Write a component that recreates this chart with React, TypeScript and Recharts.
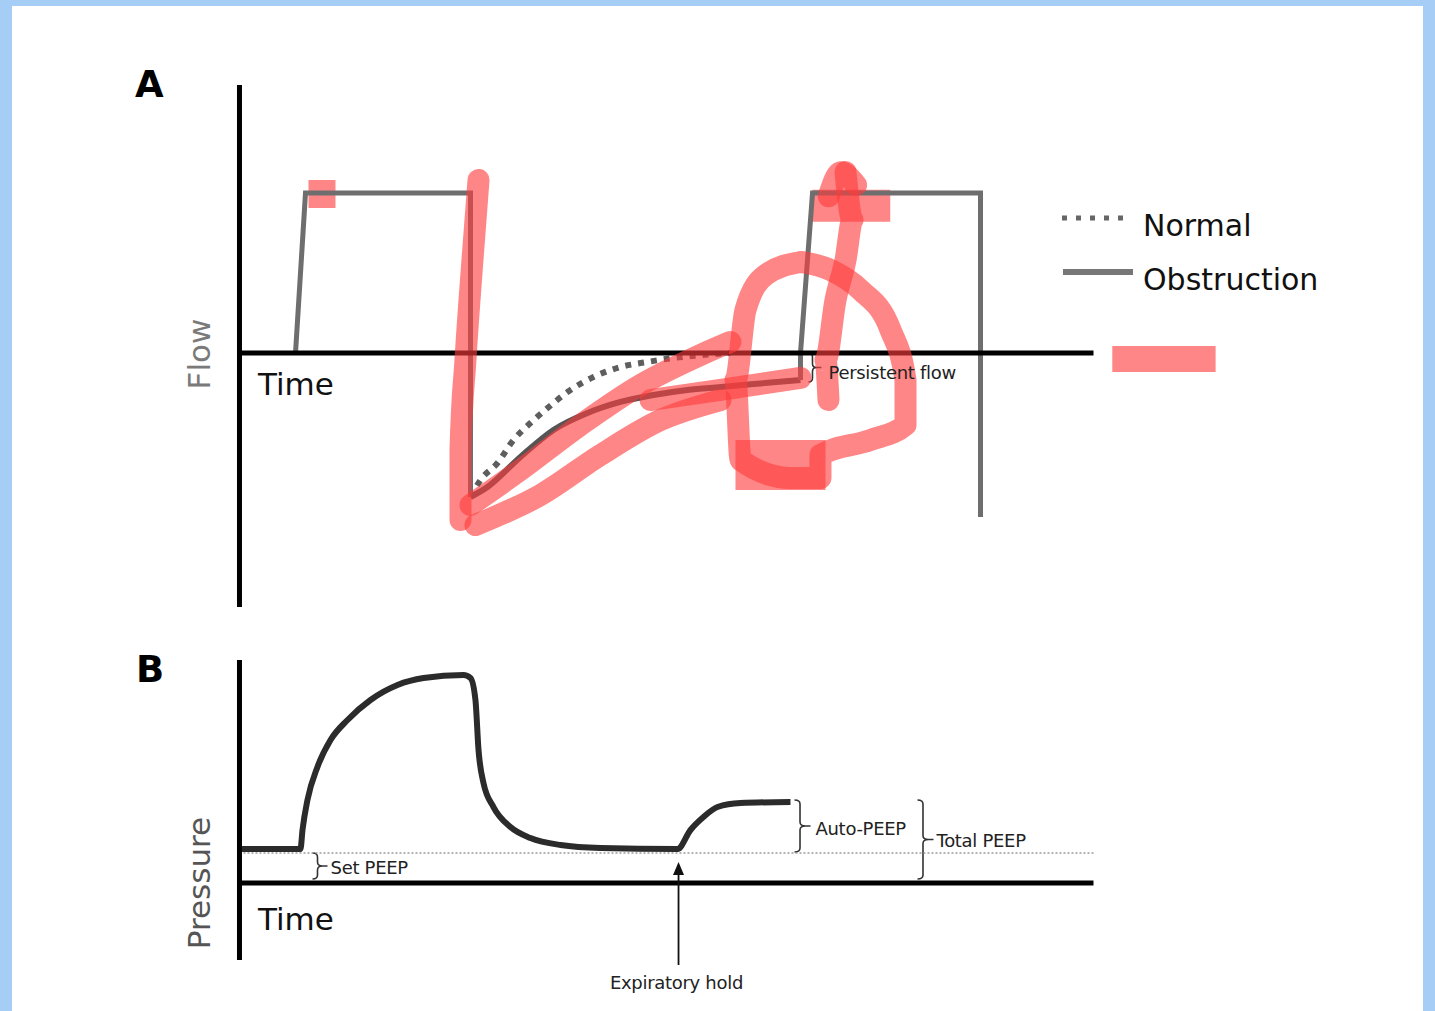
import React from 'react';
import { LineChart, Line, XAxis, YAxis, ReferenceLine, ReferenceArea, ReferenceDot } from 'recharts';

const FONT = "'DejaVu Sans', Verdana, sans-serif";

// ---------- Panel A: flow (t = time units, f = flow units) ----------
const obstructionInsp1 = [
  { t: 6.56, f: 0 }, { t: 7.73, f: 1 }, { t: 27.05, f: 1 }, { t: 27.05, f: -0.9 },
];
const obstructionExp = [
  { t: 27.05, f: -0.9 }, { t: 29.04, f: -0.8375 }, { t: 32.9, f: -0.65 }, { t: 36.77, f: -0.481 },
  { t: 40.75, f: -0.375 }, { t: 44.61, f: -0.306 }, { t: 48.48, f: -0.2625 }, { t: 52.46, f: -0.231 },
  { t: 56.32, f: -0.2125 }, { t: 60.19, f: -0.194 }, { t: 65.69, f: -0.169 },
];
const obstructionInsp2 = [
  { t: 65.69, f: -0.169 }, { t: 65.69, f: 0 }, { t: 67.1, f: 1 }, { t: 86.77, f: 1 }, { t: 86.77, f: -1.025 },
];
const normalExp = [
  { t: 27.05, f: -0.9 }, { t: 28.22, f: -0.794 }, { t: 30.21, f: -0.6875 }, { t: 32.08, f: -0.544 },
  { t: 34.07, f: -0.4375 }, { t: 36.07, f: -0.344 }, { t: 38.76, f: -0.231 }, { t: 41.45, f: -0.15 },
  { t: 44.61, f: -0.0875 }, { t: 47.78, f: -0.056 }, { t: 50.82, f: -0.031 }, { t: 54.33, f: -0.0125 },
  { t: 57.5, f: 0 },
];
const flowAxisV = [{ x: 0, y: 1.675 }, { x: 0, y: -1.5875 }];
const flowAxisH = [{ x: 0, y: 0 }, { x: 100, y: 0 }];

// red hand-drawn marks (panel A)
const redStrokeFall = [
  { t: 27.99, f: 1.081 }, { t: 27.28, f: 0.581 }, { t: 26.46, f: -0.044 }, { t: 25.88, f: -0.606 }, { t: 25.88, f: -1.044 },
];
const redStrokeCurveUpper = [
  { t: 27.05, f: -0.95 }, { t: 32.9, f: -0.731 }, { t: 39.93, f: -0.45 }, { t: 46.96, f: -0.2 },
  { t: 53.98, f: -0.0125 }, { t: 57.49, f: 0.069 },
];
const redStrokeCurveLower = [
  { t: 27.63, f: -1.075 }, { t: 35.25, f: -0.8875 }, { t: 42.27, f: -0.6375 }, { t: 49.3, f: -0.419 },
  { t: 56.32, f: -0.294 },
];
const redStrokeTail = [
  { t: 48.13, f: -0.294 }, { t: 56.32, f: -0.231 }, { t: 65.69, f: -0.156 },
];
const redLoop = [
  { t: 65.69, f: 0.569 }, { t: 61.59, f: 0.4875 }, { t: 59.25, f: 0.269 }, { t: 58.08, f: -0.169 },
  { t: 58.67, f: -0.669 }, { t: 64.52, f: -0.781 }, { t: 68.03, f: -0.781 }, { t: 68.03, f: -0.6375 },
  { t: 73.89, f: -0.544 }, { t: 77.99, f: -0.45 }, { t: 77.99, f: -0.169 }, { t: 76.23, f: 0.144 },
  { t: 72.72, f: 0.394 }, { t: 69.2, f: 0.519 }, { t: 65.69, f: 0.569 },
];
const redSquiggle = [
  { t: 70.96, f: 1.131 }, { t: 71.78, f: 0.831 }, { t: 70.96, f: 0.581 }, { t: 69.79, f: 0.331 },
  { t: 68.62, f: -0.044 }, { t: 68.97, f: -0.294 },
];
const redPeak = [{ t: 69.0, f: 0.98 }, { t: 70.4, f: 1.13 }, { t: 72.2, f: 1.05 }];
const redBlocks = [
  { t1: 8.08, t2: 11.24, f1: 0.906, f2: 1.081 },
  { t1: 67.1, t2: 76.2, f1: 0.82, f2: 1.02 },
  { t1: 58.08, t2: 68.62, f1: -0.856, f2: -0.544 },
  { t1: 102.2, t2: 114.3, f1: -0.119, f2: 0.044 },
];

// ---------- Panel B: pressure (t = time units, p = pressure units) ----------
const pressure = [
  { t: 0, p: 1.133 }, { t: 7.14, p: 1.133 }, { t: 7.38, p: 1.767 }, { t: 7.96, p: 2.767 },
  { t: 9.13, p: 3.867 }, { t: 10.66, p: 4.767 }, { t: 12.65, p: 5.433 }, { t: 15.34, p: 6.1 },
  { t: 18.5, p: 6.6 }, { t: 21.55, p: 6.833 }, { t: 26.23, p: 6.933 }, { t: 27.05, p: 6.833 },
  { t: 27.63, p: 6.1 }, { t: 27.99, p: 4.433 }, { t: 28.57, p: 3.333 }, { t: 29.74, p: 2.533 },
  { t: 31.73, p: 1.867 }, { t: 34.07, p: 1.5 }, { t: 37.59, p: 1.267 }, { t: 42.27, p: 1.167 },
  { t: 51.29, p: 1.133 }, { t: 52.81, p: 1.767 }, { t: 54.33, p: 2.2 }, { t: 55.97, p: 2.533 },
  { t: 58.67, p: 2.667 }, { t: 64.52, p: 2.7 },
];
const pressAxisV = [{ x: 0, y: 7.433 }, { x: 0, y: -2.567 }];
const pressAxisH = [{ x: 0, y: 0 }, { x: 100, y: 0 }];
const setPeepLine = [{ x: 0, y: 1 }, { x: 100, y: 1 }];
const holdArrow = [{ x: 51.41, y: -2.733 }, { x: 51.41, y: 0.4 }];
const holdArrowTip = { t: 51.41, p: 0.7 };

const bracesA = [{ t1: 66.63, t2: 67.56, y1: 0, y2: -0.181 }];
const labelsA = [{ t: 68.97, f: -0.119, text: 'Persistent flow' }];
const bracesB = [
  { t1: 8.55, t2: 9.72, y1: 1.0, y2: 0.133 },
  { t1: 64.99, t2: 66.28, y1: 2.767, y2: 1.033 },
  { t1: 79.39, t2: 80.68, y1: 2.767, y2: 0.133 },
];
const labelsB = [
  { t: 10.66, p: 0.533, text: 'Set PEEP', anchor: 'start' },
  { t: 67.45, p: 1.833, text: 'Auto-PEEP', anchor: 'start' },
  { t: 81.62, p: 1.433, text: 'Total PEEP', anchor: 'start' },
  { t: 51.17, p: -3.3, text: 'Expiratory hold', anchor: 'middle' },
];

const X_DOMAIN: [number, number] = [-12, 125];
const RED = 'rgb(255,60,60)';

const Brace = (props: any) => {
  const { x, y, width, height } = props;
  const x0 = x, y0 = y, y1 = y + height, xm = x + width / 2, xt = x + width, ym = y + height / 2;
  const r = Math.min(4, height / 4);
  const d = `M ${x0} ${y0} Q ${xm} ${y0} ${xm} ${y0 + r} L ${xm} ${ym - r} Q ${xm} ${ym} ${xt} ${ym} Q ${xm} ${ym} ${xm} ${ym + r} L ${xm} ${y1 - r} Q ${xm} ${y1} ${x0} ${y1} M ${xt} ${ym} L ${xt + 5} ${ym}`;
  return <path d={d} fill="none" stroke="#333" strokeWidth={1.6} />;
};

const textShape = (text: string, anchor: string) => (p: any) => (
  <text x={p.cx} y={p.cy} textAnchor={anchor} dominantBaseline="central" fontFamily={FONT} fontSize={18} fill="#222" letterSpacing={-0.3}>
    {text}
  </text>
);

const arrowShape = (p: any) => (
  <polygon points={`${p.cx},${p.cy} ${p.cx - 5.5},${p.cy + 13} ${p.cx + 5.5},${p.cy + 13}`} fill="#111" />
);

const redLines = [redStrokeFall, redStrokeCurveUpper, redStrokeCurveLower, redStrokeTail, redLoop, redSquiggle, redPeak];

export default function App() {
  return (
    <div style={{ position: 'absolute', left: 0, top: 0, width: 1435, height: 1011, background: '#a6cdf5', overflow: 'hidden' }}>
      <div style={{ position: 'absolute', left: 12, top: 6, width: 1411, height: 1005, background: '#fff' }} />

      {/* Panel A */}
      <div style={{ position: 'absolute', left: 136.52, top: 49 }}>
        <LineChart width={1170} height={592} margin={{ top: 0, right: 0, bottom: 0, left: 0 }}>
          <XAxis type="number" dataKey="t" domain={X_DOMAIN} allowDataOverflow hide />
          <YAxis type="number" domain={[-1.8, 1.9]} allowDataOverflow hide />
          <Line data={normalExp} dataKey="f" type="monotone" stroke="#5e5e5e" strokeWidth={6} strokeDasharray="6 7" dot={false} activeDot={false} isAnimationActive={false} />
          <Line data={obstructionInsp1} dataKey="f" type="linear" stroke="#6e6e6e" strokeWidth={5} dot={false} activeDot={false} isAnimationActive={false} />
          <Line data={obstructionExp} dataKey="f" type="monotone" stroke="#555" strokeWidth={6} dot={false} activeDot={false} isAnimationActive={false} />
          <Line data={obstructionInsp2} dataKey="f" type="linear" stroke="#6e6e6e" strokeWidth={5} dot={false} activeDot={false} isAnimationActive={false} />
          <ReferenceLine segment={flowAxisV} stroke="#000" strokeWidth={5} ifOverflow="visible" />
          <ReferenceLine segment={flowAxisH} stroke="#000" strokeWidth={5} ifOverflow="visible" />
          {bracesA.map((b, i) => (
            <ReferenceArea key={'ba' + i} x1={b.t1} x2={b.t2} y1={b.y1} y2={b.y2} ifOverflow="visible" shape={Brace} />
          ))}
          {labelsA.map((l, i) => (
            <ReferenceDot key={'la' + i} x={l.t} y={l.f} r={0} ifOverflow="visible" shape={textShape(l.text, 'start')} />
          ))}
          {redBlocks.map((b, i) => (
            <ReferenceArea key={'rb' + i} x1={b.t1} x2={b.t2} y1={b.f1} y2={b.f2} ifOverflow="visible" fill={RED} fillOpacity={0.62} stroke="none" />
          ))}
          {redLines.map((d, i) => (
            <Line key={'rl' + i} data={d} dataKey="f" type="monotone" stroke={RED} strokeOpacity={0.62} strokeWidth={22} strokeLinecap="round" strokeLinejoin="round" dot={false} activeDot={false} isAnimationActive={false} />
          ))}
        </LineChart>
      </div>

      {/* Panel B */}
      <div style={{ position: 'absolute', left: 136.52, top: 628 }}>
        <LineChart width={1170} height={375} margin={{ top: 0, right: 0, bottom: 0, left: 0 }}>
          <XAxis type="number" dataKey="t" domain={X_DOMAIN} allowDataOverflow hide />
          <YAxis type="number" domain={[-4, 8.5]} allowDataOverflow hide />
          <ReferenceLine segment={setPeepLine} stroke="#9a9a9a" strokeWidth={1.5} strokeDasharray="2 2" ifOverflow="visible" />
          <Line data={pressure} dataKey="p" type="monotone" stroke="#2b2b2b" strokeWidth={6} dot={false} activeDot={false} isAnimationActive={false} />
          <ReferenceLine segment={pressAxisV} stroke="#000" strokeWidth={5} ifOverflow="visible" />
          <ReferenceLine segment={pressAxisH} stroke="#000" strokeWidth={5} ifOverflow="visible" />
          <ReferenceLine segment={holdArrow} stroke="#111" strokeWidth={1.8} ifOverflow="visible" />
          <ReferenceDot x={holdArrowTip.t} y={holdArrowTip.p} r={0} ifOverflow="visible" shape={arrowShape} />
          {bracesB.map((b, i) => (
            <ReferenceArea key={'bb' + i} x1={b.t1} x2={b.t2} y1={b.y1} y2={b.y2} ifOverflow="visible" shape={Brace} />
          ))}
          {labelsB.map((l, i) => (
            <ReferenceDot key={'lb' + i} x={l.t} y={l.p} r={0} ifOverflow="visible" shape={textShape(l.text, l.anchor)} />
          ))}
        </LineChart>
      </div>

      {/* Titles, axis names and legend */}
      <svg width={1435} height={1011} style={{ position: 'absolute', left: 0, top: 0, pointerEvents: 'none' }}>
        <text x={135} y={97} fontFamily={FONT} fontWeight="bold" fontSize={37} fill="#000">A</text>
        <text x={136} y={682} fontFamily={FONT} fontWeight="bold" fontSize={37} fill="#000">B</text>
        <text x={258} y={395} fontFamily={FONT} fontSize={31} fill="#111">Time</text>
        <text x={258} y={930} fontFamily={FONT} fontSize={31} fill="#111">Time</text>
        <text transform="translate(210,354) rotate(-90)" textAnchor="middle" fontFamily={FONT} fontSize={31} fill="#7a7a7a">Flow</text>
        <text transform="translate(210,883) rotate(-90)" textAnchor="middle" fontFamily={FONT} fontSize={31} fill="#555">Pressure</text>
        <line x1={1062} y1={218} x2={1132} y2={218} stroke="#666" strokeWidth={5} strokeDasharray="5 9" />
        <line x1={1063} y1={272} x2={1133} y2={272} stroke="#777" strokeWidth={6} />
        <text x={1143} y={236} fontFamily={FONT} fontSize={30} fill="#111">Normal</text>
        <text x={1143} y={290} fontFamily={FONT} fontSize={30} fill="#111">Obstruction</text>
      </svg>
    </div>
  );
}
